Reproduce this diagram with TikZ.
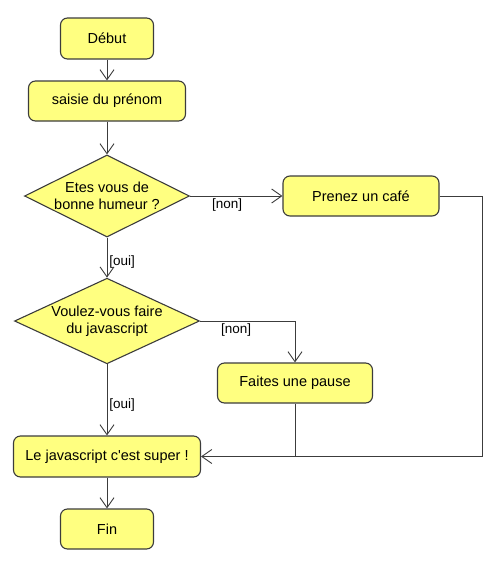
\documentclass[tikz,border=0pt]{standalone}
\usepackage{fontspec}
\setmainfont{Liberation Sans}
\usepackage{tikz}
\usetikzlibrary{shapes.geometric,arrows.meta}
\definecolor{jaune}{RGB}{255,255,128}
\definecolor{trait}{RGB}{60,60,60}

\begin{document}
\begin{tikzpicture}[x=1pt,y=-1pt,
    >={Straight Barb[length=10pt,width=14pt]},
    lien/.style={draw=trait,line width=0.9pt},
    etat/.style={rectangle,rounded corners=7pt,draw=trait,fill=jaune,line width=1.1pt,
                 inner sep=0pt,font=\fontsize{14.5}{16.5}\selectfont},
    choix/.style={diamond,aspect=2,draw=trait,fill=jaune,line width=1.1pt,inner sep=0pt,
                  align=center,minimum height=82pt,font=\fontsize{14.5}{16.5}\selectfont},
    garde/.style={font=\fontsize{13.5}{15}\selectfont,text=black,inner sep=2pt}]
      \useasboundingbox (0,0) rectangle (500,562);

      \node[etat,minimum width=93pt,minimum height=41pt] (debut) at (107,38.5){Début};
      \node[etat,minimum width=157pt,minimum height=40pt] (saisie) at (107,101){saisie du prénom};
      \node[choix,minimum width=165pt] (humeur) at (107,196){Etes vous de\\bonne humeur ?};
      \node[etat,minimum width=156pt,minimum height=40pt] (cafe) at (361,196){Prenez un café};
      \node[choix,minimum width=185pt] (js) at (107,321){Voulez-vous faire\\du javascript};
      \node[etat,minimum width=155pt,minimum height=40pt] (pause) at (295,383){Faites une pause};
      \node[etat,minimum width=187pt,minimum height=41pt] (super) at (107,456.5){Le javascript c\textquotesingle est super !};
      \node[etat,minimum width=93pt,minimum height=40pt] (fin) at (107,529){Fin};

      \coordinate (droite) at (482,196);
      \coordinate (jonction) at (pause.south |- super.east);

      \draw[lien,->] (debut) -- (saisie);
      \draw[lien,->] (saisie) -- (humeur);
      \draw[lien,->] (humeur) -- node[garde,below,pos=0.4]{[non]} (cafe);
      \draw[lien,->] (humeur) -- node[garde,right,pos=0.6]{[oui]} (js);
      \draw[lien,->] (js.east) -| node[garde,below,pos=0.19]{[non]} (pause.north);
      \draw[lien,->] (js) -- node[garde,right,pos=0.57]{[oui]} (super);
      \draw[lien,->] (cafe.east) -- (droite) |- (super.east);
      \draw[lien] (pause) -- (jonction);
      \draw[lien,->] (super) -- (fin);
    \end{tikzpicture}
\end{document}
